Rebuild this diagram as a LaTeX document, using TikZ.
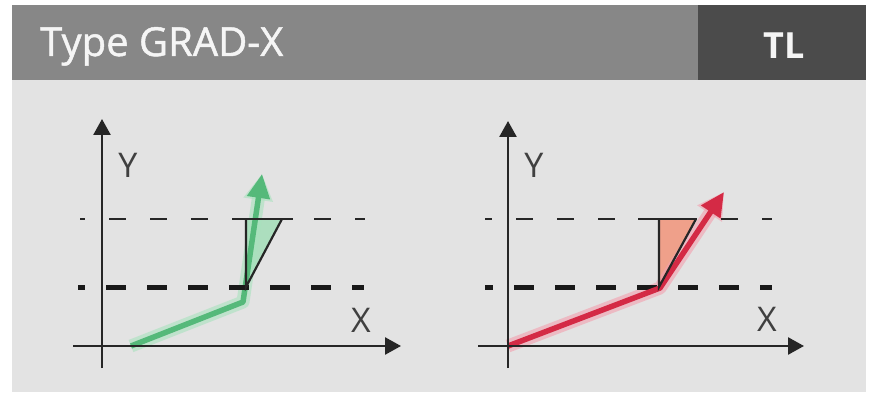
\documentclass[tikz,border=0pt]{standalone}
\usepackage{fontspec}
\setmainfont{Open Sans}
\newfontfamily\titlefont{Open Sans}[FakeBold=1.2]
\usetikzlibrary{arrows.meta}
\definecolor{bodygray}{HTML}{E3E3E3}
\definecolor{hdr}{HTML}{878787}
\definecolor{hdrdark}{HTML}{4B4B4B}
\definecolor{grn}{HTML}{55B97A}
\definecolor{grnglow}{HTML}{A8E2BD}
\definecolor{grnfill}{HTML}{9FDDB5}
\definecolor{rd}{HTML}{D42A45}
\definecolor{rdglow}{HTML}{F2A0AE}
\definecolor{rdfill}{HTML}{EFA08A}
\tikzset{
  axisline/.style={line width=2.6pt, draw=black!85, -{Triangle[length=16pt,width=17pt]}},
  thindash/.style={line width=2.4pt, draw=black!85, dash pattern=on 17pt off 24pt},
  thickdash/.style={line width=5pt, draw=black!90, dash pattern=on 20pt off 21pt},
  tri/.style={line width=2.2pt, draw=black!85},
  axlabel/.style={font=\fontsize{34}{36}\selectfont, text=black!75, inner sep=0pt},
  glowgreen/.style={line width=13pt, draw=grnglow, opacity=0.6, line join=round, -{Triangle[length=26pt,width=28pt]}},
  arrgreen/.style={line width=5.5pt, draw=grn, line join=round, -{Triangle[length=24pt,width=22pt]}},
  glowred/.style={line width=13pt, draw=rdglow, opacity=0.6, line join=round, -{Triangle[length=26pt,width=28pt]}},
  arrred/.style={line width=5.5pt, draw=rd, line join=round, -{Triangle[length=24pt,width=22pt]}}
}
\begin{document}
\begin{tikzpicture}[x=1pt,y=-1pt]
\useasboundingbox (0,0) rectangle (872,395);
\fill[white] (0,0) rectangle (872,395);
\fill[bodygray] (12,80) rectangle (866,392);
\fill[hdr] (12,5) rectangle (698,80);
\fill[hdrdark] (698,5) rectangle (866,80);
\node[anchor=base west, text=white!96!black, font=\titlefont\fontsize{40}{42}\selectfont, inner sep=0pt] (title) at (40,56) {Type GRAD-X};
\node[text=white!96!black, font=\bfseries\fontsize{36}{38}\selectfont, inner sep=0pt] (tl) at (784,46) {TL};

% ---------- left chart ----------
\coordinate (lxs) at (73,346);
\coordinate (lxe) at (401,346);
\coordinate (lys) at (102,368);
\coordinate (lye) at (102,119);
\coordinate (lg0) at (131,346);
\coordinate (lg1) at (243,302);
\coordinate (lg2) at (262,174);
\coordinate (lt1) at (246,219);
\coordinate (lt2) at (282,219);
\coordinate (lt3) at (246,287);
\fill[grnfill, opacity=0.8] (lt1) -- (lt2) -- (lt3) -- cycle;
\draw[glowgreen] (lg0) -- (lg1) -- (lg2);
\draw[arrgreen] (lg0) -- (lg1) -- (lg2);
\draw[thindash, dash phase=12pt] (80,219) -- (365,219);
\draw[thickdash, dash phase=13pt] (78,287) -- (364,287);
\draw[tri] (235,219) -- (293,219);
\draw[tri] (lt1) -- (lt3) -- (lt2);
\draw[axisline] (lxs) -- (lxe);
\draw[axisline] (lys) -- (lye);
\node[axlabel] (ly) at (128,165) {Y};
\node[axlabel] (lx) at (361,320) {X};

% ---------- right chart ----------
\coordinate (rxs) at (478,346);
\coordinate (rxe) at (804,346);
\coordinate (rys) at (508,368);
\coordinate (rye) at (508,121);
\coordinate (rg0) at (508,346);
\coordinate (rg1) at (660,288);
\coordinate (rg2) at (724,192);
\coordinate (rt1) at (659,219);
\coordinate (rt2) at (696,219);
\coordinate (rt3) at (659,287);
\fill[rdfill] (rt1) -- (rt2) -- (rt3) -- cycle;
\draw[glowred] (rg0) -- (rg1) -- (rg2);
\draw[thindash, dash phase=10pt] (485,219) -- (772,219);
\draw[thickdash, dash phase=12pt] (485,287) -- (772,287);
\draw[arrred] (rg0) -- (rg1) -- (rg2);
\draw[tri] (638,219) -- (697,219);
\draw[tri] (rt1) -- (rt3) -- (rt2);
\draw[axisline] (rxs) -- (rxe);
\draw[axisline] (rys) -- (rye);
\node[axlabel] (ry) at (534,165) {Y};
\node[axlabel] (rx) at (767,319) {X};
\end{tikzpicture}
\end{document}
